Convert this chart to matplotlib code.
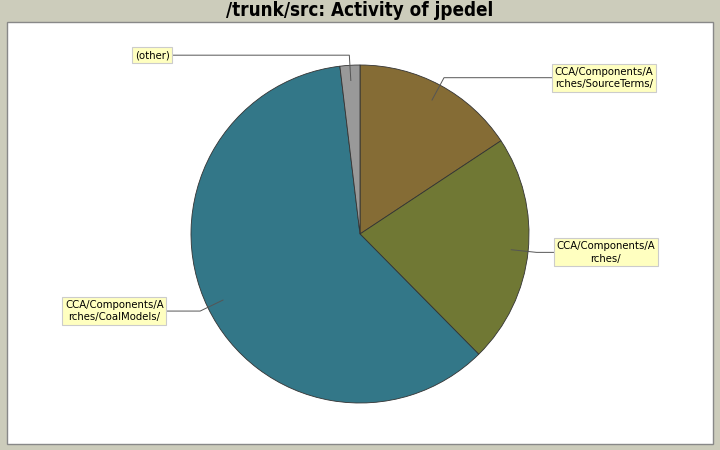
import numpy as np
import matplotlib
matplotlib.use("Agg")
import matplotlib.pyplot as plt
from matplotlib.patches import Rectangle

title = "/trunk/src: Activity of jpedel"
labels = ["CCA/Components/A\nrches/SourceTerms/", "CCA/Components/A\nrches/",
          "CCA/Components/A\nrches/CoalModels/", "(other)"]
values = [15.7, 21.9, 60.5, 1.9]
colors = ["#856c35", "#707834", "#337788", "#999999"]

W, H = 720, 450
fig = plt.figure(figsize=(7.2, 4.5), dpi=100)
fig.patch.set_facecolor("#ccccbb")
ax = fig.add_axes([0, 0, 1, 1])
ax.set_xlim(0, W)
ax.set_ylim(0, H)
ax.axis("off")

# plot area
ax.add_patch(Rectangle((7, H - 444), 706, 422, facecolor="white", edgecolor="#888888", lw=1, zorder=0))

cx, cy, r = 360, H - 234, 169
wedges, _ = ax.pie(values, colors=colors, startangle=90, counterclock=False,
                   center=(cx, cy), radius=r, frame=True,
                   wedgeprops=dict(edgecolor="#333333", linewidth=0.6))
ax.set_xlim(0, W)
ax.set_ylim(0, H)
ax.set_aspect("equal")
ax.axis("off")

label_x = {0: 552, 1: 554, 2: 166, 3: 172}
for i, w in enumerate(wedges):
    mid = np.deg2rad((w.theta1 + w.theta2) / 2)
    p_in = (cx + 0.9 * r * np.cos(mid), cy + 0.9 * r * np.sin(mid))
    p_el = (cx + 1.05 * r * np.cos(mid), cy + 1.05 * r * np.sin(mid))
    if i == 3:
        p_in = (cx + 0.91 * r * np.cos(mid), cy + 0.91 * r * np.sin(mid))
        p_el = (cx + 1.06 * r * np.cos(mid), cy + 1.06 * r * np.sin(mid))
    right = np.cos(mid) > 0
    lx = label_x[i]
    ax.plot([p_in[0], p_el[0], lx], [p_in[1], p_el[1], p_el[1]], color="#555555", lw=0.7, zorder=5)
    ax.text(lx + (2.5 if right else -2.5), p_el[1], labels[i], ha="left" if right else "right",
            va="center", multialignment="center", fontsize=7.3, family="DejaVu Sans",
            zorder=6, linespacing=1.3,
            bbox=dict(boxstyle="square,pad=0.28", facecolor="#ffffc0", edgecolor="#cccccc", lw=0.8))

fig.text(0.5, 1 - 11 / H, title, ha="center", va="center", fontsize=13.5,
         fontweight="bold", family="DejaVu Sans", fontstretch="condensed")

fig.savefig("out.png", dpi=100, facecolor=fig.get_facecolor())
